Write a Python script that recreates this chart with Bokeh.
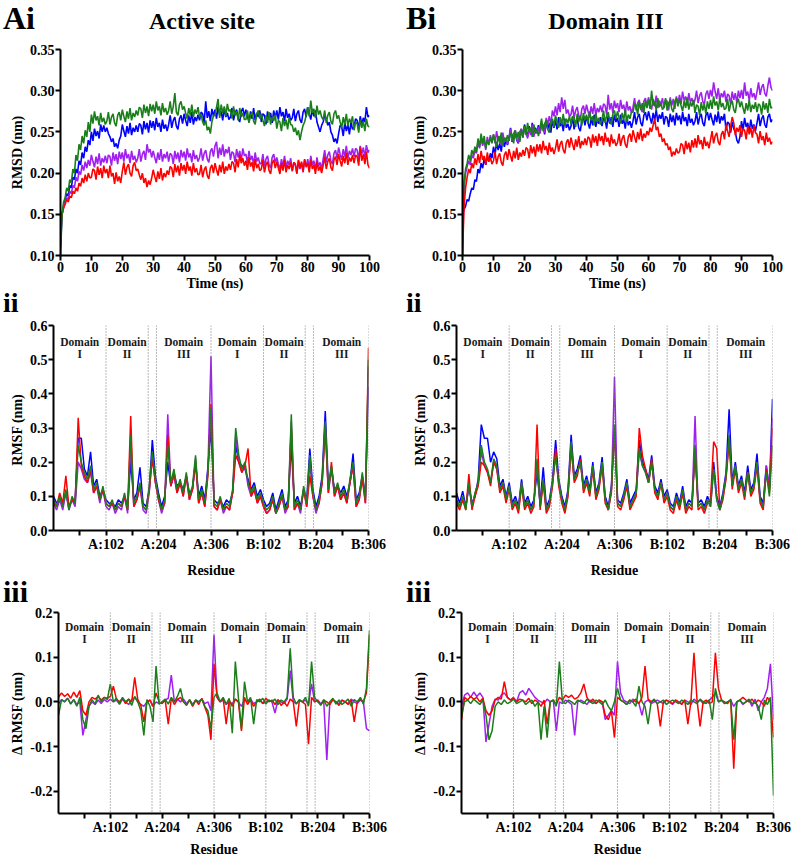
from bokeh.plotting import figure
from bokeh.models import (FixedTicker, Span, ColumnDataSource, Div,
                          NumeralTickFormatter, Range1d)
from bokeh.layouts import column, row
from bokeh.embed import file_html
from bokeh.resources import INLINE
from bokeh.core.properties import value

# ------------------------------------------------------------------ data
time_ns = [i / 2 for i in range(201)]   # 0.5 ns sampling

rmsd_active_blue = [
    0.110, 0.150, 0.160, 0.168, 0.175, 0.172, 0.185, 0.182, 0.195, 0.192,
    0.205, 0.200, 0.215, 0.210, 0.225, 0.218, 0.232, 0.226, 0.240, 0.234,
    0.250, 0.239, 0.254, 0.245, 0.251, 0.242, 0.259, 0.250, 0.258, 0.250,
    0.255, 0.248, 0.244, 0.238, 0.242, 0.232, 0.236, 0.230, 0.240, 0.245,
    0.259, 0.251, 0.244, 0.257, 0.248, 0.261, 0.246, 0.255, 0.250, 0.258,
    0.250, 0.260, 0.258, 0.247, 0.263, 0.253, 0.261, 0.249, 0.264, 0.255,
    0.263, 0.252, 0.267, 0.256, 0.261, 0.250, 0.265, 0.254, 0.259, 0.251,
    0.259, 0.270, 0.255, 0.264, 0.268, 0.257, 0.253, 0.266, 0.270, 0.260,
    0.272, 0.264, 0.257, 0.270, 0.261, 0.274, 0.259, 0.268, 0.263, 0.271,
    0.264, 0.274, 0.272, 0.261, 0.287, 0.267, 0.275, 0.263, 0.278, 0.269,
    0.277, 0.266, 0.281, 0.270, 0.275, 0.264, 0.279, 0.268, 0.273, 0.265,
    0.268, 0.279, 0.264, 0.273, 0.277, 0.266, 0.262, 0.275, 0.279, 0.269,
    0.277, 0.269, 0.262, 0.275, 0.266, 0.279, 0.264, 0.273, 0.268, 0.276,
    0.262, 0.272, 0.270, 0.259, 0.275, 0.265, 0.273, 0.261, 0.276, 0.267,
    0.276, 0.265, 0.280, 0.269, 0.274, 0.263, 0.278, 0.267, 0.272, 0.264,
    0.267, 0.278, 0.263, 0.272, 0.276, 0.265, 0.261, 0.274, 0.278, 0.268,
    0.280, 0.272, 0.265, 0.278, 0.269, 0.276, 0.262, 0.256, 0.250, 0.258,
    0.262, 0.270, 0.266, 0.258, 0.262, 0.250, 0.246, 0.238, 0.242, 0.236,
    0.248, 0.258, 0.256, 0.245, 0.261, 0.251, 0.259, 0.247, 0.262, 0.253,
    0.256, 0.266, 0.264, 0.253, 0.269, 0.259, 0.267, 0.262, 0.280, 0.268,
    0.270]
rmsd_active_purple = [
    0.120, 0.150, 0.158, 0.165, 0.170, 0.168, 0.178, 0.175, 0.185, 0.182,
    0.195, 0.190, 0.202, 0.198, 0.210, 0.203, 0.214, 0.206, 0.216, 0.209,
    0.222, 0.214, 0.207, 0.220, 0.211, 0.224, 0.209, 0.218, 0.213, 0.221,
    0.212, 0.222, 0.220, 0.209, 0.225, 0.215, 0.223, 0.211, 0.226, 0.217,
    0.225, 0.214, 0.229, 0.218, 0.223, 0.212, 0.227, 0.216, 0.221, 0.213,
    0.218, 0.229, 0.214, 0.223, 0.227, 0.216, 0.235, 0.225, 0.229, 0.219,
    0.227, 0.219, 0.212, 0.225, 0.216, 0.229, 0.214, 0.223, 0.218, 0.226,
    0.214, 0.224, 0.222, 0.211, 0.227, 0.217, 0.225, 0.213, 0.228, 0.219,
    0.226, 0.215, 0.230, 0.219, 0.224, 0.213, 0.228, 0.217, 0.222, 0.214,
    0.219, 0.230, 0.215, 0.224, 0.228, 0.217, 0.213, 0.226, 0.230, 0.220,
    0.233, 0.238, 0.218, 0.231, 0.222, 0.235, 0.220, 0.229, 0.224, 0.232,
    0.216, 0.226, 0.224, 0.213, 0.229, 0.219, 0.227, 0.215, 0.230, 0.221,
    0.223, 0.212, 0.227, 0.216, 0.221, 0.210, 0.225, 0.214, 0.219, 0.211,
    0.212, 0.223, 0.208, 0.217, 0.221, 0.210, 0.206, 0.219, 0.223, 0.213,
    0.219, 0.211, 0.204, 0.217, 0.208, 0.221, 0.206, 0.215, 0.210, 0.218,
    0.202, 0.212, 0.210, 0.199, 0.215, 0.205, 0.213, 0.201, 0.216, 0.207,
    0.217, 0.206, 0.221, 0.210, 0.215, 0.204, 0.219, 0.208, 0.213, 0.205,
    0.217, 0.228, 0.213, 0.222, 0.226, 0.215, 0.211, 0.224, 0.228, 0.218,
    0.231, 0.223, 0.216, 0.229, 0.220, 0.233, 0.218, 0.227, 0.222, 0.230,
    0.220, 0.230, 0.228, 0.217, 0.233, 0.223, 0.231, 0.219, 0.234, 0.225,
    0.228]
rmsd_active_red = [
    0.130, 0.150, 0.158, 0.162, 0.168, 0.165, 0.172, 0.170, 0.178, 0.175,
    0.182, 0.178, 0.188, 0.184, 0.194, 0.188, 0.198, 0.190, 0.200, 0.194,
    0.195, 0.205, 0.203, 0.192, 0.208, 0.198, 0.206, 0.194, 0.209, 0.200,
    0.205, 0.194, 0.209, 0.196, 0.200, 0.187, 0.201, 0.190, 0.196, 0.188,
    0.202, 0.213, 0.198, 0.207, 0.211, 0.200, 0.196, 0.209, 0.213, 0.203,
    0.205, 0.198, 0.192, 0.200, 0.188, 0.194, 0.183, 0.191, 0.186, 0.194,
    0.204, 0.196, 0.189, 0.202, 0.193, 0.206, 0.191, 0.200, 0.195, 0.203,
    0.198, 0.208, 0.206, 0.195, 0.211, 0.201, 0.209, 0.197, 0.212, 0.203,
    0.210, 0.199, 0.214, 0.203, 0.208, 0.197, 0.212, 0.201, 0.206, 0.198,
    0.199, 0.210, 0.195, 0.204, 0.208, 0.197, 0.193, 0.206, 0.210, 0.200,
    0.212, 0.204, 0.197, 0.210, 0.201, 0.214, 0.199, 0.208, 0.203, 0.211,
    0.204, 0.214, 0.212, 0.201, 0.217, 0.207, 0.222, 0.212, 0.218, 0.209,
    0.215, 0.204, 0.219, 0.208, 0.213, 0.202, 0.217, 0.206, 0.211, 0.203,
    0.205, 0.216, 0.201, 0.210, 0.214, 0.203, 0.199, 0.212, 0.216, 0.206,
    0.214, 0.206, 0.199, 0.212, 0.203, 0.216, 0.201, 0.210, 0.205, 0.213,
    0.203, 0.213, 0.211, 0.200, 0.216, 0.206, 0.214, 0.202, 0.217, 0.208,
    0.212, 0.201, 0.216, 0.205, 0.210, 0.199, 0.214, 0.203, 0.208, 0.200,
    0.209, 0.220, 0.205, 0.214, 0.218, 0.207, 0.203, 0.216, 0.220, 0.210,
    0.223, 0.215, 0.208, 0.221, 0.212, 0.225, 0.210, 0.219, 0.214, 0.222,
    0.212, 0.222, 0.220, 0.209, 0.232, 0.215, 0.223, 0.211, 0.226, 0.210,
    0.206]
rmsd_active_green = [
    0.100, 0.150, 0.165, 0.170, 0.182, 0.178, 0.192, 0.188, 0.205, 0.200,
    0.222, 0.215, 0.235, 0.228, 0.245, 0.236, 0.252, 0.244, 0.262, 0.250,
    0.271, 0.260, 0.275, 0.264, 0.269, 0.258, 0.273, 0.262, 0.267, 0.259,
    0.263, 0.274, 0.259, 0.268, 0.272, 0.261, 0.257, 0.270, 0.274, 0.264,
    0.277, 0.269, 0.262, 0.275, 0.266, 0.279, 0.264, 0.273, 0.268, 0.276,
    0.270, 0.280, 0.278, 0.267, 0.283, 0.273, 0.281, 0.269, 0.284, 0.275,
    0.283, 0.272, 0.287, 0.276, 0.281, 0.270, 0.285, 0.274, 0.279, 0.271,
    0.276, 0.287, 0.272, 0.281, 0.297, 0.274, 0.270, 0.283, 0.287, 0.277,
    0.281, 0.273, 0.266, 0.279, 0.270, 0.283, 0.268, 0.277, 0.272, 0.280,
    0.268, 0.272, 0.262, 0.258, 0.264, 0.252, 0.256, 0.248, 0.262, 0.270,
    0.270, 0.280, 0.290, 0.267, 0.283, 0.273, 0.281, 0.269, 0.284, 0.275,
    0.277, 0.266, 0.281, 0.270, 0.275, 0.264, 0.279, 0.268, 0.273, 0.265,
    0.265, 0.276, 0.261, 0.270, 0.274, 0.263, 0.259, 0.272, 0.276, 0.266,
    0.272, 0.264, 0.257, 0.270, 0.261, 0.274, 0.259, 0.268, 0.263, 0.271,
    0.254, 0.264, 0.262, 0.251, 0.267, 0.257, 0.265, 0.253, 0.268, 0.259,
    0.258, 0.250, 0.255, 0.246, 0.252, 0.240, 0.250, 0.258, 0.262, 0.270,
    0.280, 0.269, 0.288, 0.273, 0.278, 0.267, 0.282, 0.271, 0.276, 0.268,
    0.265, 0.276, 0.261, 0.270, 0.274, 0.263, 0.259, 0.272, 0.276, 0.266,
    0.270, 0.262, 0.255, 0.268, 0.259, 0.272, 0.257, 0.266, 0.261, 0.269,
    0.252, 0.262, 0.260, 0.249, 0.265, 0.255, 0.263, 0.251, 0.266, 0.257,
    0.256]

rmsd_d3_blue = [
    0.150, 0.156, 0.160, 0.168, 0.166, 0.175, 0.182, 0.180, 0.192, 0.190,
    0.205, 0.200, 0.212, 0.206, 0.218, 0.210, 0.220, 0.214, 0.224, 0.218,
    0.232, 0.222, 0.238, 0.228, 0.236, 0.226, 0.242, 0.232, 0.240, 0.234,
    0.242, 0.255, 0.238, 0.247, 0.251, 0.240, 0.236, 0.249, 0.253, 0.243,
    0.259, 0.251, 0.244, 0.257, 0.248, 0.261, 0.246, 0.255, 0.250, 0.258,
    0.250, 0.260, 0.258, 0.247, 0.263, 0.253, 0.261, 0.249, 0.264, 0.255,
    0.264, 0.253, 0.268, 0.257, 0.262, 0.251, 0.266, 0.255, 0.260, 0.252,
    0.257, 0.268, 0.253, 0.262, 0.266, 0.255, 0.251, 0.264, 0.268, 0.258,
    0.269, 0.261, 0.254, 0.267, 0.258, 0.271, 0.256, 0.265, 0.260, 0.268,
    0.257, 0.267, 0.265, 0.254, 0.270, 0.260, 0.268, 0.256, 0.271, 0.262,
    0.267, 0.256, 0.271, 0.260, 0.265, 0.254, 0.269, 0.258, 0.263, 0.255,
    0.263, 0.274, 0.259, 0.268, 0.272, 0.261, 0.257, 0.270, 0.274, 0.264,
    0.275, 0.267, 0.260, 0.273, 0.264, 0.277, 0.262, 0.271, 0.266, 0.274,
    0.259, 0.269, 0.267, 0.256, 0.272, 0.262, 0.270, 0.258, 0.273, 0.264,
    0.270, 0.259, 0.274, 0.263, 0.268, 0.257, 0.272, 0.261, 0.266, 0.258,
    0.263, 0.274, 0.259, 0.268, 0.272, 0.261, 0.257, 0.270, 0.274, 0.264,
    0.273, 0.265, 0.258, 0.271, 0.262, 0.275, 0.260, 0.269, 0.264, 0.272,
    0.252, 0.262, 0.260, 0.249, 0.262, 0.254, 0.250, 0.240, 0.236, 0.244,
    0.263, 0.252, 0.267, 0.256, 0.261, 0.250, 0.265, 0.254, 0.259, 0.251,
    0.261, 0.272, 0.257, 0.266, 0.270, 0.259, 0.255, 0.268, 0.272, 0.262,
    0.265]
rmsd_d3_purple = [
    0.100, 0.180, 0.200, 0.208, 0.215, 0.210, 0.222, 0.218, 0.228, 0.224,
    0.238, 0.230, 0.242, 0.233, 0.240, 0.228, 0.244, 0.235, 0.246, 0.237,
    0.247, 0.236, 0.251, 0.240, 0.245, 0.234, 0.249, 0.238, 0.243, 0.235,
    0.243, 0.254, 0.239, 0.248, 0.252, 0.241, 0.237, 0.250, 0.254, 0.244,
    0.257, 0.249, 0.242, 0.255, 0.246, 0.259, 0.244, 0.253, 0.248, 0.256,
    0.248, 0.258, 0.258, 0.249, 0.267, 0.259, 0.269, 0.259, 0.276, 0.269,
    0.281, 0.270, 0.285, 0.274, 0.292, 0.278, 0.289, 0.272, 0.277, 0.269,
    0.271, 0.282, 0.267, 0.276, 0.280, 0.269, 0.265, 0.278, 0.282, 0.272,
    0.283, 0.275, 0.268, 0.281, 0.272, 0.285, 0.270, 0.279, 0.274, 0.282,
    0.274, 0.284, 0.282, 0.271, 0.295, 0.277, 0.285, 0.273, 0.288, 0.279,
    0.285, 0.274, 0.289, 0.278, 0.283, 0.272, 0.287, 0.276, 0.281, 0.273,
    0.280, 0.291, 0.276, 0.285, 0.289, 0.278, 0.274, 0.287, 0.291, 0.281,
    0.292, 0.284, 0.277, 0.290, 0.281, 0.294, 0.279, 0.288, 0.283, 0.291,
    0.279, 0.289, 0.287, 0.276, 0.292, 0.282, 0.290, 0.278, 0.293, 0.284,
    0.295, 0.284, 0.299, 0.288, 0.293, 0.282, 0.297, 0.286, 0.291, 0.283,
    0.289, 0.300, 0.285, 0.294, 0.298, 0.287, 0.283, 0.296, 0.300, 0.290,
    0.301, 0.293, 0.310, 0.299, 0.290, 0.303, 0.288, 0.297, 0.292, 0.300,
    0.286, 0.296, 0.294, 0.283, 0.299, 0.289, 0.297, 0.285, 0.300, 0.291,
    0.301, 0.290, 0.310, 0.294, 0.299, 0.288, 0.303, 0.292, 0.297, 0.289,
    0.299, 0.310, 0.295, 0.304, 0.308, 0.297, 0.293, 0.306, 0.316, 0.304,
    0.300]
rmsd_d3_red = [
    0.100, 0.160, 0.182, 0.195, 0.205, 0.200, 0.212, 0.206, 0.218, 0.210,
    0.223, 0.212, 0.227, 0.216, 0.221, 0.210, 0.225, 0.214, 0.219, 0.211,
    0.215, 0.226, 0.211, 0.220, 0.224, 0.213, 0.209, 0.222, 0.226, 0.216,
    0.229, 0.221, 0.214, 0.227, 0.218, 0.231, 0.216, 0.225, 0.220, 0.228,
    0.221, 0.231, 0.229, 0.218, 0.234, 0.224, 0.232, 0.220, 0.235, 0.226,
    0.235, 0.224, 0.239, 0.228, 0.233, 0.222, 0.237, 0.226, 0.231, 0.223,
    0.230, 0.241, 0.226, 0.235, 0.239, 0.228, 0.224, 0.237, 0.241, 0.231,
    0.243, 0.235, 0.228, 0.241, 0.232, 0.245, 0.230, 0.239, 0.234, 0.242,
    0.234, 0.244, 0.242, 0.231, 0.247, 0.237, 0.245, 0.233, 0.248, 0.239,
    0.245, 0.234, 0.249, 0.238, 0.243, 0.232, 0.247, 0.236, 0.241, 0.233,
    0.237, 0.248, 0.233, 0.242, 0.246, 0.235, 0.231, 0.244, 0.248, 0.238,
    0.252, 0.244, 0.237, 0.250, 0.241, 0.254, 0.239, 0.248, 0.243, 0.251,
    0.246, 0.255, 0.250, 0.258, 0.266, 0.252, 0.256, 0.244, 0.248, 0.238,
    0.242, 0.234, 0.236, 0.228, 0.232, 0.220, 0.226, 0.222, 0.230, 0.224,
    0.226, 0.236, 0.234, 0.223, 0.239, 0.229, 0.237, 0.225, 0.240, 0.231,
    0.242, 0.231, 0.246, 0.235, 0.240, 0.229, 0.244, 0.233, 0.238, 0.230,
    0.240, 0.251, 0.236, 0.245, 0.249, 0.238, 0.234, 0.247, 0.251, 0.241,
    0.259, 0.251, 0.244, 0.257, 0.268, 0.261, 0.246, 0.255, 0.250, 0.258,
    0.244, 0.254, 0.252, 0.241, 0.257, 0.247, 0.255, 0.243, 0.258, 0.249,
    0.247, 0.236, 0.251, 0.240, 0.245, 0.234, 0.249, 0.238, 0.243, 0.235,
    0.238]
rmsd_d3_green = [
    0.120, 0.190, 0.205, 0.212, 0.222, 0.215, 0.228, 0.222, 0.232, 0.226,
    0.242, 0.232, 0.248, 0.236, 0.245, 0.230, 0.240, 0.234, 0.244, 0.236,
    0.247, 0.239, 0.232, 0.245, 0.236, 0.249, 0.234, 0.243, 0.238, 0.246,
    0.239, 0.249, 0.247, 0.236, 0.252, 0.242, 0.250, 0.238, 0.253, 0.244,
    0.257, 0.246, 0.261, 0.250, 0.255, 0.244, 0.259, 0.248, 0.253, 0.245,
    0.255, 0.266, 0.251, 0.260, 0.264, 0.253, 0.249, 0.262, 0.266, 0.256,
    0.270, 0.262, 0.255, 0.268, 0.259, 0.272, 0.257, 0.266, 0.261, 0.269,
    0.259, 0.269, 0.267, 0.256, 0.272, 0.262, 0.270, 0.258, 0.273, 0.264,
    0.271, 0.260, 0.275, 0.264, 0.269, 0.258, 0.273, 0.262, 0.267, 0.259,
    0.265, 0.276, 0.261, 0.270, 0.274, 0.263, 0.259, 0.272, 0.276, 0.266,
    0.275, 0.267, 0.260, 0.273, 0.264, 0.277, 0.262, 0.271, 0.266, 0.274,
    0.274, 0.284, 0.282, 0.271, 0.287, 0.277, 0.285, 0.273, 0.288, 0.279,
    0.289, 0.278, 0.300, 0.282, 0.287, 0.276, 0.291, 0.280, 0.285, 0.277,
    0.280, 0.291, 0.276, 0.285, 0.289, 0.278, 0.274, 0.287, 0.291, 0.281,
    0.290, 0.282, 0.275, 0.288, 0.279, 0.292, 0.277, 0.286, 0.281, 0.289,
    0.273, 0.283, 0.281, 0.270, 0.286, 0.276, 0.284, 0.272, 0.287, 0.278,
    0.289, 0.278, 0.293, 0.282, 0.287, 0.276, 0.291, 0.280, 0.285, 0.277,
    0.279, 0.290, 0.275, 0.284, 0.288, 0.277, 0.273, 0.286, 0.290, 0.280,
    0.287, 0.279, 0.272, 0.285, 0.276, 0.289, 0.274, 0.283, 0.278, 0.286,
    0.274, 0.284, 0.282, 0.271, 0.287, 0.277, 0.285, 0.273, 0.290, 0.279,
    0.280]

residues = list(range(0, 613, 6))

rmsf_active_blue = [
    0.100, 0.080, 0.090, 0.080, 0.110, 0.070, 0.090, 0.090, 0.270, 0.270,
    0.180, 0.160, 0.230, 0.130, 0.150, 0.100, 0.120, 0.090, 0.080, 0.080,
    0.070, 0.090, 0.080, 0.100, 0.070, 0.200, 0.090, 0.110, 0.185, 0.080,
    0.070, 0.120, 0.265, 0.160, 0.110, 0.070, 0.100, 0.200, 0.130, 0.170,
    0.130, 0.140, 0.120, 0.160, 0.110, 0.120, 0.200, 0.100, 0.130, 0.090,
    0.185, 0.300, 0.090, 0.080, 0.090, 0.070, 0.090, 0.080, 0.110, 0.250,
    0.200, 0.190, 0.180, 0.150, 0.120, 0.140, 0.100, 0.120, 0.090, 0.070,
    0.080, 0.110, 0.060, 0.090, 0.120, 0.070, 0.090, 0.250, 0.080, 0.100,
    0.070, 0.120, 0.090, 0.240, 0.120, 0.070, 0.100, 0.160, 0.350, 0.130,
    0.180, 0.120, 0.130, 0.110, 0.130, 0.100, 0.140, 0.225, 0.090, 0.110,
    0.160, 0.100, 0.420]
rmsf_active_purple = [
    0.080, 0.060, 0.090, 0.060, 0.110, 0.060, 0.090, 0.070, 0.200, 0.180,
    0.150, 0.140, 0.170, 0.110, 0.130, 0.080, 0.120, 0.070, 0.060, 0.080,
    0.050, 0.070, 0.060, 0.100, 0.050, 0.250, 0.070, 0.090, 0.130, 0.060,
    0.050, 0.110, 0.220, 0.140, 0.090, 0.050, 0.080, 0.340, 0.130, 0.160,
    0.110, 0.140, 0.100, 0.160, 0.090, 0.120, 0.210, 0.080, 0.110, 0.070,
    0.180, 0.510, 0.070, 0.060, 0.090, 0.050, 0.070, 0.060, 0.110, 0.280,
    0.200, 0.170, 0.190, 0.130, 0.100, 0.120, 0.080, 0.100, 0.070, 0.050,
    0.060, 0.090, 0.050, 0.070, 0.100, 0.050, 0.070, 0.320, 0.060, 0.080,
    0.050, 0.120, 0.070, 0.200, 0.100, 0.050, 0.080, 0.140, 0.310, 0.110,
    0.180, 0.100, 0.130, 0.090, 0.110, 0.080, 0.140, 0.190, 0.070, 0.090,
    0.160, 0.080, 0.480]
rmsf_active_red = [
    0.080, 0.070, 0.110, 0.080, 0.160, 0.070, 0.090, 0.080, 0.330, 0.190,
    0.160, 0.140, 0.180, 0.110, 0.130, 0.090, 0.120, 0.080, 0.070, 0.080,
    0.060, 0.080, 0.070, 0.100, 0.060, 0.335, 0.070, 0.090, 0.130, 0.070,
    0.060, 0.120, 0.210, 0.140, 0.090, 0.060, 0.080, 0.280, 0.130, 0.170,
    0.110, 0.140, 0.100, 0.160, 0.090, 0.120, 0.200, 0.080, 0.110, 0.070,
    0.160, 0.370, 0.070, 0.060, 0.090, 0.060, 0.070, 0.060, 0.110, 0.220,
    0.200, 0.170, 0.190, 0.240, 0.100, 0.120, 0.080, 0.100, 0.070, 0.050,
    0.060, 0.090, 0.050, 0.070, 0.100, 0.060, 0.070, 0.300, 0.060, 0.080,
    0.060, 0.120, 0.070, 0.160, 0.100, 0.060, 0.080, 0.140, 0.300, 0.110,
    0.200, 0.100, 0.130, 0.090, 0.110, 0.080, 0.140, 0.190, 0.070, 0.090,
    0.150, 0.080, 0.535]
rmsf_active_green = [
    0.090, 0.070, 0.100, 0.070, 0.120, 0.060, 0.100, 0.080, 0.250, 0.200,
    0.170, 0.150, 0.190, 0.120, 0.140, 0.090, 0.130, 0.080, 0.070, 0.090,
    0.060, 0.080, 0.070, 0.110, 0.060, 0.280, 0.080, 0.100, 0.140, 0.070,
    0.060, 0.130, 0.230, 0.150, 0.100, 0.060, 0.090, 0.250, 0.140, 0.180,
    0.120, 0.150, 0.110, 0.170, 0.100, 0.130, 0.220, 0.090, 0.120, 0.080,
    0.170, 0.360, 0.080, 0.070, 0.100, 0.060, 0.080, 0.070, 0.120, 0.300,
    0.220, 0.180, 0.200, 0.140, 0.110, 0.130, 0.090, 0.110, 0.080, 0.060,
    0.070, 0.100, 0.050, 0.080, 0.110, 0.060, 0.080, 0.340, 0.070, 0.090,
    0.060, 0.130, 0.080, 0.220, 0.110, 0.060, 0.090, 0.150, 0.320, 0.120,
    0.190, 0.110, 0.140, 0.100, 0.120, 0.090, 0.150, 0.200, 0.080, 0.100,
    0.170, 0.090, 0.500]

rmsf_d3_blue = [
    0.110, 0.080, 0.115, 0.070, 0.130, 0.080, 0.100, 0.150, 0.310, 0.270,
    0.270, 0.200, 0.230, 0.210, 0.130, 0.150, 0.100, 0.140, 0.080, 0.100,
    0.070, 0.150, 0.080, 0.100, 0.070, 0.090, 0.170, 0.080, 0.185, 0.070,
    0.090, 0.150, 0.265, 0.150, 0.100, 0.070, 0.120, 0.280, 0.160, 0.180,
    0.220, 0.130, 0.160, 0.120, 0.200, 0.110, 0.140, 0.215, 0.100, 0.070,
    0.130, 0.290, 0.090, 0.080, 0.110, 0.150, 0.080, 0.100, 0.120, 0.265,
    0.200, 0.180, 0.150, 0.220, 0.130, 0.110, 0.150, 0.100, 0.120, 0.080,
    0.070, 0.110, 0.080, 0.130, 0.070, 0.090, 0.080, 0.230, 0.080, 0.090,
    0.070, 0.100, 0.080, 0.200, 0.100, 0.070, 0.110, 0.170, 0.355, 0.140,
    0.200, 0.130, 0.160, 0.110, 0.190, 0.120, 0.140, 0.225, 0.100, 0.080,
    0.190, 0.120, 0.385]
rmsf_d3_purple = [
    0.090, 0.070, 0.100, 0.070, 0.130, 0.070, 0.110, 0.140, 0.230, 0.190,
    0.170, 0.140, 0.200, 0.180, 0.120, 0.140, 0.090, 0.130, 0.070, 0.090,
    0.060, 0.140, 0.070, 0.090, 0.060, 0.080, 0.200, 0.070, 0.150, 0.060,
    0.080, 0.140, 0.220, 0.140, 0.090, 0.060, 0.110, 0.240, 0.150, 0.170,
    0.200, 0.120, 0.150, 0.110, 0.190, 0.100, 0.130, 0.200, 0.090, 0.060,
    0.120, 0.450, 0.080, 0.070, 0.100, 0.140, 0.070, 0.090, 0.110, 0.230,
    0.190, 0.170, 0.140, 0.200, 0.120, 0.100, 0.140, 0.090, 0.110, 0.070,
    0.060, 0.100, 0.070, 0.120, 0.060, 0.080, 0.070, 0.335, 0.070, 0.080,
    0.060, 0.090, 0.070, 0.180, 0.090, 0.060, 0.100, 0.160, 0.270, 0.130,
    0.190, 0.120, 0.150, 0.100, 0.170, 0.110, 0.130, 0.200, 0.090, 0.070,
    0.190, 0.120, 0.330]
rmsf_d3_red = [
    0.080, 0.060, 0.090, 0.060, 0.165, 0.060, 0.100, 0.130, 0.200, 0.190,
    0.170, 0.130, 0.200, 0.180, 0.110, 0.130, 0.080, 0.120, 0.060, 0.080,
    0.050, 0.130, 0.060, 0.080, 0.050, 0.070, 0.310, 0.060, 0.140, 0.050,
    0.070, 0.130, 0.240, 0.130, 0.080, 0.050, 0.100, 0.250, 0.140, 0.160,
    0.210, 0.110, 0.140, 0.100, 0.180, 0.090, 0.120, 0.190, 0.080, 0.060,
    0.110, 0.300, 0.070, 0.060, 0.090, 0.130, 0.060, 0.080, 0.100, 0.300,
    0.220, 0.180, 0.140, 0.210, 0.110, 0.090, 0.140, 0.080, 0.100, 0.060,
    0.050, 0.090, 0.060, 0.110, 0.050, 0.070, 0.060, 0.240, 0.060, 0.070,
    0.050, 0.080, 0.090, 0.260, 0.240, 0.060, 0.090, 0.150, 0.260, 0.120,
    0.180, 0.110, 0.140, 0.090, 0.170, 0.100, 0.120, 0.190, 0.080, 0.060,
    0.180, 0.110, 0.300]
rmsf_d3_green = [
    0.090, 0.070, 0.100, 0.060, 0.140, 0.070, 0.110, 0.140, 0.250, 0.200,
    0.180, 0.140, 0.210, 0.190, 0.120, 0.140, 0.090, 0.130, 0.070, 0.090,
    0.060, 0.140, 0.070, 0.090, 0.060, 0.080, 0.210, 0.070, 0.150, 0.060,
    0.080, 0.140, 0.220, 0.140, 0.090, 0.060, 0.110, 0.260, 0.150, 0.170,
    0.200, 0.120, 0.150, 0.110, 0.190, 0.100, 0.130, 0.200, 0.090, 0.060,
    0.120, 0.310, 0.080, 0.070, 0.100, 0.140, 0.070, 0.090, 0.110, 0.240,
    0.190, 0.170, 0.140, 0.200, 0.120, 0.100, 0.140, 0.090, 0.110, 0.070,
    0.060, 0.100, 0.070, 0.120, 0.060, 0.080, 0.070, 0.250, 0.070, 0.080,
    0.060, 0.090, 0.070, 0.180, 0.090, 0.060, 0.100, 0.160, 0.280, 0.130,
    0.190, 0.120, 0.150, 0.100, 0.170, 0.110, 0.130, 0.200, 0.090, 0.070,
    0.170, 0.100, 0.250]

drmsf_active_purple = [
    -0.005, 0.005, 0.000, 0.008, -0.004, 0.005, -0.006, 0.000, -0.075, -0.040,
    -0.010, 0.000, -0.006, 0.004, -0.004, 0.005, 0.000, 0.006, 0.000, 0.004,
    -0.005, 0.006, 0.000, -0.006, 0.004, 0.010, 0.000, -0.006, -0.010, 0.000,
    0.004, -0.010, 0.000, -0.004, 0.000, 0.004, 0.008, 0.060, 0.000, 0.006,
    0.000, 0.006, -0.004, 0.004, -0.006, 0.004, 0.000, 0.006, -0.004, 0.000,
    -0.020, 0.150, 0.010, 0.000, 0.004, -0.006, 0.000, -0.004, 0.006, 0.000,
    -0.010, 0.004, 0.000, 0.006, -0.004, 0.000, 0.004, -0.004, 0.000, 0.004,
    0.000, -0.025, 0.004, 0.000, -0.004, 0.006, 0.070, 0.000, -0.004, 0.004,
    0.000, 0.004, -0.006, 0.040, 0.000, 0.004, -0.004, 0.000, -0.130, 0.000,
    0.004, 0.000, -0.004, 0.004, 0.000, -0.004, 0.006, 0.000, -0.004, 0.004,
    0.000, -0.060, -0.065]
drmsf_active_red = [
    0.010, 0.020, 0.012, 0.018, 0.008, 0.022, 0.010, 0.025, -0.020, -0.030,
    0.000, 0.010, 0.006, 0.012, 0.004, 0.010, 0.008, 0.012, 0.035, 0.006,
    0.000, 0.008, -0.004, 0.006, 0.000, 0.055, 0.005, -0.008, -0.045, 0.000,
    0.004, -0.010, 0.020, 0.000, -0.004, 0.004, -0.050, 0.008, -0.006, 0.005,
    0.010, 0.000, -0.008, 0.004, -0.010, 0.004, -0.006, 0.008, -0.012, -0.030,
    -0.085, 0.085, 0.010, 0.000, 0.008, -0.050, 0.004, -0.010, 0.006, 0.000,
    -0.065, 0.010, -0.006, 0.004, -0.010, 0.000, 0.006, -0.004, 0.008, 0.000,
    0.004, -0.006, 0.005, -0.008, 0.000, -0.010, 0.006, 0.000, -0.055, 0.004,
    0.000, -0.006, -0.095, 0.010, 0.000, 0.004, -0.008, 0.004, 0.000, -0.006,
    0.005, 0.000, -0.008, 0.004, 0.000, -0.006, 0.004, -0.045, 0.000, 0.006,
    0.000, 0.020, 0.150]
drmsf_active_green = [
    -0.030, 0.005, 0.000, 0.008, -0.005, 0.005, -0.010, 0.010, -0.040, -0.060,
    -0.010, 0.005, -0.005, 0.015, 0.000, 0.010, 0.005, 0.040, 0.000, 0.008,
    -0.005, 0.010, 0.000, 0.006, -0.008, 0.012, 0.000, -0.020, -0.075, 0.005,
    -0.010, -0.045, 0.080, -0.005, 0.000, 0.006, -0.005, 0.010, 0.000, 0.012,
    0.030, 0.000, -0.006, 0.005, -0.008, 0.004, 0.000, 0.006, -0.010, -0.020,
    -0.060, 0.010, 0.020, 0.000, 0.010, -0.005, 0.008, -0.070, 0.090, 0.010,
    -0.060, 0.045, 0.000, 0.010, -0.050, 0.005, 0.000, 0.008, -0.005, 0.004,
    0.000, 0.006, -0.006, 0.004, 0.000, 0.010, 0.120, 0.010, -0.005, 0.005,
    0.000, 0.010, -0.010, 0.090, 0.010, 0.000, -0.006, 0.005, -0.010, 0.000,
    0.008, -0.005, 0.004, -0.006, 0.000, 0.006, -0.010, 0.005, 0.000, 0.010,
    -0.005, 0.030, 0.160]

drmsf_d3_purple = [
    -0.010, 0.015, 0.020, 0.010, 0.022, 0.012, 0.020, 0.010, -0.090, -0.050,
    -0.010, 0.006, 0.004, 0.015, 0.020, 0.010, 0.004, 0.010, 0.000, 0.020,
    0.025, 0.015, 0.030, 0.020, 0.010, 0.004, 0.000, -0.004, 0.006, 0.000,
    0.004, -0.065, 0.000, -0.004, 0.004, 0.000, -0.006, -0.075, 0.000, 0.004,
    0.000, -0.006, 0.004, 0.000, -0.004, 0.004, 0.000, -0.040, -0.030, -0.020,
    -0.030, 0.090, 0.020, 0.004, 0.000, -0.004, 0.006, 0.000, -0.004, -0.030,
    0.000, 0.004, -0.004, 0.000, 0.004, 0.000, -0.004, 0.004, 0.000, -0.006,
    0.004, 0.000, -0.004, 0.004, 0.000, -0.006, 0.006, 0.000, 0.004, -0.004,
    0.000, 0.004, 0.010, 0.020, 0.000, 0.004, -0.004, 0.000, 0.004, -0.010,
    0.000, 0.004, -0.006, 0.000, 0.004, -0.010, 0.006, -0.020, 0.000, 0.010,
    0.030, 0.085, -0.040]
drmsf_d3_red = [
    -0.040, 0.010, 0.004, 0.012, 0.006, 0.010, 0.000, 0.008, -0.020, -0.030,
    -0.020, 0.004, 0.010, 0.006, 0.045, 0.010, 0.004, 0.008, 0.000, 0.006,
    0.004, 0.000, 0.008, -0.004, 0.004, 0.000, -0.010, 0.004, -0.050, 0.000,
    0.004, -0.006, 0.010, 0.004, 0.015, 0.010, 0.015, 0.006, 0.010, 0.020,
    0.040, 0.010, 0.000, 0.006, -0.004, 0.004, 0.000, -0.030, -0.040, -0.020,
    -0.080, 0.010, 0.004, 0.000, -0.006, 0.004, 0.000, 0.006, -0.004, 0.010,
    0.080, 0.006, 0.000, 0.004, -0.004, -0.055, 0.000, 0.004, 0.000, -0.004,
    0.004, 0.000, -0.006, 0.004, -0.050, 0.000, 0.110, 0.004, -0.055, 0.000,
    0.004, -0.004, 0.000, 0.110, 0.030, 0.004, 0.000, -0.004, 0.006, -0.150,
    0.000, 0.004, 0.010, 0.004, 0.000, 0.006, -0.004, 0.004, 0.000, -0.010,
    0.010, 0.000, -0.080]
drmsf_d3_green = [
    -0.030, 0.000, 0.004, -0.004, 0.006, 0.000, -0.006, 0.004, -0.030, -0.085,
    -0.065, -0.010, 0.000, -0.006, 0.004, -0.004, 0.000, 0.006, -0.004, 0.000,
    0.004, -0.006, 0.000, 0.004, -0.010, 0.000, -0.085, -0.010, -0.080, 0.000,
    0.004, -0.010, 0.090, 0.000, -0.004, 0.004, 0.000, -0.006, 0.004, 0.000,
    -0.004, 0.006, 0.000, -0.004, 0.004, 0.000, -0.006, 0.004, -0.010, -0.020,
    0.000, 0.030, 0.004, 0.000, -0.006, 0.004, 0.000, -0.010, 0.035, 0.000,
    -0.010, -0.050, 0.000, 0.006, -0.004, 0.000, 0.004, -0.006, 0.000, 0.004,
    0.000, -0.004, 0.004, 0.000, -0.006, 0.004, 0.000, -0.004, 0.006, 0.000,
    -0.004, 0.004, -0.040, 0.030, 0.000, 0.004, -0.004, 0.000, 0.004, -0.085,
    0.000, 0.004, -0.004, 0.000, 0.006, -0.004, 0.000, -0.010, -0.040, 0.004,
    -0.006, 0.010, -0.210]

domain_boundaries = [102, 184, 200, 306, 408, 489, 505, 612]
domain_centers = [51, 143, 253, 357, 448, 560]
domain_words = ["Domain", "Domain", "Domain", "Domain", "Domain", "Domain"]
domain_numerals = ["I", "II", "III", "I", "II", "III"]
residue_ticks = [51, 102, 153, 204, 255, 306, 357, 408, 459, 510, 561, 612]
residue_tick_labels = ["", "A:102", "", "A:204", "", "A:306",
                       "", "B:102", "", "B:204", "", "B:306"]
time_ticks = [0, 10, 20, 30, 40, 50, 60, 70, 80, 90, 100]
rmsd_ticks = [0.10, 0.15, 0.20, 0.25, 0.30, 0.35]
rmsf_ticks = [0.0, 0.1, 0.2, 0.3, 0.4, 0.5, 0.6]
drmsf_ticks = [-0.2, -0.1, 0.0, 0.1, 0.2]

# ------------------------------------------------------------------ style
FONT = "Liberation Serif"
BLUE, PURPLE, RED, GREEN = "#0000ff", "#a020f0", "#ff0000", "#1a7f1a"
LEFT_W, RIGHT_W = 400, 392


def make_fig(width, height, bl, br, bt, bb, xr, yr, label_standoff):
    p = figure(width=width, height=height, x_range=xr, y_range=yr,
               output_backend="svg", toolbar_location=None,
               min_border_left=bl, min_border_right=br,
               min_border_top=bt, min_border_bottom=bb)
    p.outline_line_color = None
    p.xgrid.visible = False
    p.ygrid.visible = False
    for ax in (p.xaxis[0], p.yaxis[0]):
        ax.axis_line_width = 2
        ax.axis_line_color = "black"
        ax.major_tick_line_width = 2
        ax.major_tick_out = 5
        ax.major_tick_in = 0
        ax.minor_tick_line_color = None
        ax.major_label_text_font = FONT
        ax.major_label_text_font_style = "bold"
        ax.major_label_text_font_size = "14px"
        ax.major_label_text_color = "black"
        ax.axis_label_text_font = FONT
        ax.axis_label_text_font_style = "bold"
        ax.axis_label_text_font_size = "14px"
        ax.axis_label_text_color = "black"
        ax.major_label_standoff = 1
        ax.axis_label_standoff = 2
    p.xaxis[0].axis_label_standoff = label_standoff
    return p


def text_strip(height, items):
    """items: (x, baseline_y, text, font_px, align) in strip pixels"""
    spans = []
    for x, base, text, size, align in items:
        top = round(base - 0.8375 * size, 1)
        tr = "transform:translateX(-50%);" if align == "center" else ""
        spans.append(
            f'<span style="position:absolute;left:{x}px;top:{top}px;'
            f'font-size:{size}px;line-height:1;white-space:nowrap;{tr}">{text}</span>')
    width = LEFT_W + RIGHT_W
    html = (f'<div style="position:relative;width:{width}px;height:{height}px;'
            f"font-family:'Liberation Serif',serif;font-weight:bold;color:#000;\">"
            + "".join(spans) + "</div>")
    return Div(text=html, width=width, height=height, margin=0)


def add_lines(p, xs, series, lw):
    for ys, col in series:
        n = min(len(xs), len(ys))
        p.line(xs[:n], ys[:n], line_color=col, line_width=lw)


def residue_axes(p, yticks, ylabel):
    p.xaxis.ticker = FixedTicker(ticks=residue_ticks)
    p.xaxis.major_label_overrides = dict(zip(residue_ticks, residue_tick_labels))
    p.xaxis.axis_label = "Residue"
    p.yaxis.ticker = FixedTicker(ticks=yticks)
    p.yaxis.formatter = NumeralTickFormatter(format="0.0")
    p.yaxis.axis_label = ylabel
    for b in domain_boundaries:
        p.add_layout(Span(location=b, dimension="height", line_color="#707070",
                          line_width=1, line_dash="1 2"))


def domain_text(p, y_word, y_num):
    src = ColumnDataSource(dict(x=domain_centers, w=domain_words, n=domain_numerals,
                                yw=[y_word] * len(domain_centers),
                                yn=[y_num] * len(domain_centers)))
    for ycol, tcol in (("yw", "w"), ("yn", "n")):
        p.text(x="x", y=ycol, text=tcol, source=src, text_font=value(FONT),
               text_font_style="bold", text_font_size="11.5px",
               text_align="center", text_baseline="middle", text_color="#1a1a1a")


# ------------------------------------------------------------------ header strip
head1 = text_strip(40, [(3, 29, "Ai", 32, "left"),
                        (202, 29, "Active site", 24, "center"),
                        (406, 29, "Bi", 32, "left"),
                        (606, 29, "Domain III", 24, "center")])

# ------------------------------------------------------------------ row 1 : RMSD
R1H = 253
pA1 = make_fig(LEFT_W, R1H, 60, 31, 9, 38, Range1d(0, 100), Range1d(0.10, 0.35), 1)
pB1 = make_fig(RIGHT_W, R1H, 62, 20, 9, 38, Range1d(0, 100), Range1d(0.10, 0.35), 1)
for p, series in ((pA1, [(rmsd_active_blue, BLUE), (rmsd_active_purple, PURPLE),
                         (rmsd_active_red, RED), (rmsd_active_green, GREEN)]),
                  (pB1, [(rmsd_d3_blue, BLUE), (rmsd_d3_purple, PURPLE),
                         (rmsd_d3_green, GREEN), (rmsd_d3_red, RED)])):
    add_lines(p, time_ns, series, 1.6)
    p.xaxis.ticker = FixedTicker(ticks=time_ticks)
    p.xaxis.axis_label = "Time (ns)"
    p.yaxis.ticker = FixedTicker(ticks=rmsd_ticks)
    p.yaxis.formatter = NumeralTickFormatter(format="0.00")
    p.yaxis.axis_label = "RMSD (nm)"

# ------------------------------------------------------------------ row 2 : RMSF
head2 = text_strip(24, [(3, 19, "ii", 28, "left"), (406, 19, "ii", 28, "left")])
R2H = 263
pA2 = make_fig(LEFT_W, R2H, 53, 32, 8, 45, Range1d(0, 612), Range1d(0, 0.6), 8)
pB2 = make_fig(RIGHT_W, R2H, 56, 20, 8, 45, Range1d(0, 612), Range1d(0, 0.6), 8)
for p, series in ((pA2, [(rmsf_active_blue, BLUE), (rmsf_active_purple, PURPLE),
                         (rmsf_active_red, RED), (rmsf_active_green, GREEN)]),
                  (pB2, [(rmsf_d3_blue, BLUE), (rmsf_d3_purple, PURPLE),
                         (rmsf_d3_red, RED), (rmsf_d3_green, GREEN)])):
    residue_axes(p, rmsf_ticks, "RMSF  (nm)")
    add_lines(p, residues, series, 1.5)
    domain_text(p, 0.552, 0.517)

# ------------------------------------------------------------------ row 3 : delta RMSF
head3 = text_strip(24, [(3, 22, "iii", 30, "left"), (406, 22, "iii", 30, "left")])
R3H = 255
pA3 = make_fig(LEFT_W, R3H, 58, 31, 8, 41, Range1d(0, 612), Range1d(-0.25, 0.2), 4)
pB3 = make_fig(RIGHT_W, R3H, 61, 19, 8, 41, Range1d(0, 612), Range1d(-0.25, 0.2), 4)
for p, series in ((pA3, [(drmsf_active_purple, PURPLE), (drmsf_active_red, RED),
                         (drmsf_active_green, GREEN)]),
                  (pB3, [(drmsf_d3_purple, PURPLE), (drmsf_d3_red, RED),
                         (drmsf_d3_green, GREEN)])):
    residue_axes(p, drmsf_ticks, "\u0394 RMSF (nm)")
    add_lines(p, residues, series, 1.5)
    domain_text(p, 0.167, 0.141)

layout = column(head1, row(pA1, pB1), head2, row(pA2, pB2),
                head3, row(pA3, pB3))
open("out.html", "w").write(file_html(layout, INLINE))
